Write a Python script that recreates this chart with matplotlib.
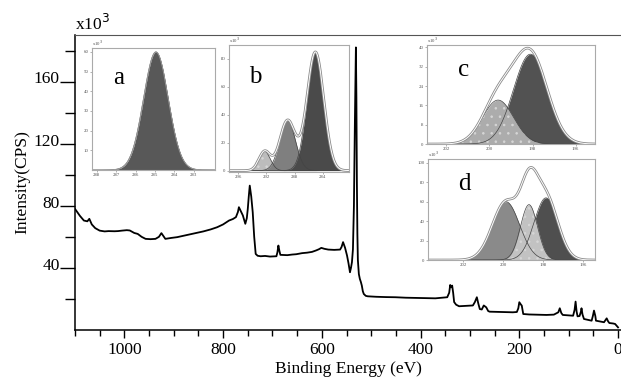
import numpy as np
import matplotlib
matplotlib.use("Agg")
import matplotlib.pyplot as plt
from matplotlib.transforms import ScaledTranslation

plt.rcParams['font.family'] = ['Liberation Serif', 'DejaVu Serif']
plt.rcParams['hatch.linewidth'] = 0.6

# survey spectrum, binding energy (eV) vs counts (x10^3)
be_survey = [1100, 1090, 1082, 1075, 1071, 1066, 1059, 1050, 1040, 1032, 1020, 1013,
             1005, 995, 989, 980, 973, 965, 957, 947, 937, 930, 925, 921, 917, 905,
             893, 880, 865, 853, 840, 825, 812, 800, 788, 780, 774, 770, 768, 764,
             760, 755, 752, 750, 748, 746, 743, 740, 737, 734, 730, 724, 715, 705,
             692, 690, 688, 686, 684, 670, 660, 652, 640, 630, 620, 612, 606, 601,
             595, 587, 575, 563, 560, 557, 553, 549, 546, 543, 541, 539, 537, 535,
             534, 533, 532, 531, 530, 529.5, 529, 528, 527, 525, 523, 521, 519, 517,
             515, 511, 507, 490, 470, 451, 430, 402, 385, 370, 355, 346, 342, 340,
             338, 336, 334, 332, 328, 322, 310, 294, 290, 286, 283, 280, 276, 272,
             270, 267, 263, 260, 240, 225, 213, 205, 202, 200, 197, 195, 192, 180,
             160, 145, 130, 121, 118, 115, 112, 100, 91, 88, 86, 84, 82, 78, 75, 74,
             72, 69, 60, 53.5, 51, 48.7, 46, 44.7, 35, 28.4, 25, 23, 20, 17.6, 10, 6,
             2, 0]
cps_survey = [78, 73.5, 70.5, 70, 71.6, 68, 65.6, 64, 63.5, 63.7, 63.6, 63.7,
              64, 64.3, 64.1, 62.5, 61.9, 60, 58.7, 58.5, 58.7, 60, 62.4, 60.5, 58.7, 59.3,
              59.8, 60.7, 61.8, 62.6, 63.5, 64.8, 66.2, 68, 70.5, 71.5, 72.7, 76, 79.1, 76.5,
              73.8, 68.4, 72, 78, 86, 93, 86, 75.9, 60, 49, 47.8, 47.5, 47.7, 47.3,
              47.5, 50, 54.4, 51, 48.4, 48.2, 48.6, 48.8, 49.5, 49.8, 50.3, 51.2, 52, 52.9,
              52.3, 51.8, 51.6, 51.8, 53.5, 56.6, 53, 48, 43, 37.2, 40, 43.7, 52, 80,
              110, 135, 160, 182, 150, 120, 95, 62, 45, 36, 32.9, 31, 28.6, 25,
              23.2, 22, 21.7, 21.4, 21.2, 21.1, 20.8, 20.6, 20.5, 20.4, 20.8, 21.1, 24, 29,
              27.5, 28.6, 24, 18, 16.3, 15.3, 15.5, 15.8, 18, 21.1, 17, 13.5, 13.2, 15.8,
              15.3, 14.6, 12.2, 11.8, 11.6, 11.5, 11.4, 11.6, 14, 17.9, 16.5, 15.7, 10.3, 10,
              9.8, 9.7, 9.9, 11.4, 14, 11, 9.7, 9.4, 9.2, 13, 18.3, 12, 8.8, 9, 12, 14,
              10, 7.1, 6.5, 6, 9, 12.5, 9, 6, 5.4, 5, 6.5, 7.5, 5.5, 4.5, 4.2, 3.9,
              2.5, 1.7]

# fitted components of the insets: centre (eV), fwhm (eV), height (x10^3)
a_center = [284.95]
a_fwhm = [1.5]
a_height = [60]

b_center = [292.25, 289.0, 285.06]
b_fwhm = [1.9, 2.6, 2.8]
b_height = [13.8, 36, 85]

c_center = [198.1, 199.6]
c_fwhm = [1.85, 1.7]
c_height = [37.2, 18.2]

d_center = [199.85, 197.85, 198.7]
d_fwhm = [1.6, 1.4, 1.0]
d_height = [60, 64, 57]

W, H = 621, 383
fig = plt.figure(figsize=(W / 100, H / 100), dpi=100)


def px_box(l, t, r, b):
    return [l / W, 1 - b / H, (r - l) / W, (b - t) / H]


ax = fig.add_axes(px_box(75, 35, 621, 330))
ax.plot(be_survey, cps_survey, color='black', lw=1.3)
ax.set_xlim(1100, -6)
ax.set_ylim(0, 190)
ax.set_xticks([1000, 800, 600, 400, 200, 0])
ax.set_xticks(np.arange(0, 1101, 50), minor=True)
ax.set_yticks([40, 80, 120, 160])
ax.set_yticks([20, 60, 100, 140, 180], minor=True)
ax.tick_params(axis='x', which='major', length=6, width=1, labelsize=12.5, pad=3)
ax.tick_params(axis='x', which='minor', length=4, width=1)
ax.tick_params(axis='y', which='major', length=11, width=1, labelsize=12.5, pad=0)
ax.tick_params(axis='y', which='minor', length=7, width=1)
for lab in ax.get_yticklabels():
    lab.set_transform(lab.get_transform() + ScaledTranslation(0, 3 / 72, fig.dpi_scale_trans))
for s in ['left', 'bottom']:
    ax.spines[s].set_linewidth(1.1)
ax.spines['top'].set_color('#555555')
ax.spines['right'].set_visible(False)
ax.set_xlabel('Binding Energy (eV)', fontsize=12.5, labelpad=2)
ax.set_ylabel('Intensity(CPS)', fontsize=12.5, labelpad=2)
fig.text(75 / W, 1 - 34 / H, r'x10$^3$', fontsize=12.5, ha='left', va='bottom')


def comp(x, c, f, h):
    return h * np.exp(-4 * np.log(2) * ((x - c) / f) ** 2)


def inset(box, xlim, ylim, xt, yt, centers, fwhms, heights, colors, dotted, order, letter):
    ia = fig.add_axes(px_box(*box))
    x = np.linspace(xlim[1], xlim[0], 400)
    parts = [comp(x, c, f, h) for c, f, h in zip(centers, fwhms, heights)]
    for i in order:
        ia.fill_between(x, 0, parts[i], color=colors[i], lw=0)
        if dotted[i]:
            ia.fill_between(x, 0, parts[i], facecolor='none', edgecolor='#d6d6d6',
                            hatch='..', lw=0)
    for p in parts:
        ia.plot(x, p, color='#444444', lw=0.5)
    env = np.sum(parts, axis=0)
    if len(parts) > 1:
        ia.plot(x, env, color='#8a8a8a', lw=1.9)
        ia.plot(x, env, color='white', lw=0.7)
    else:
        ia.plot(x, env, color='#999999', lw=0.7)
    ia.set_xlim(*xlim)
    ia.set_ylim(*ylim)
    ia.set_xticks(xt)
    ia.set_yticks(yt)
    ia.tick_params(labelsize=3.5, labelcolor='#555555', length=1.5, width=0.4,
                   color='#777777', pad=1)
    for s in ia.spines.values():
        s.set_color('#aaaaaa')
        s.set_linewidth(0.8)
    ia.text(0.0, 1.0, r'x10$^3$', transform=ia.transAxes, fontsize=3.5,
            color='#555555', ha='left', va='bottom')
    ia.text(0.22, 0.75, letter, transform=ia.transAxes, fontsize=18,
            ha='center', va='center')
    return ia


inset((92, 48, 215, 170), (288.25, 281.9), (0, 62), [288, 287, 286, 285, 284, 283],
      [10, 20, 30, 40, 50, 60], a_center, a_fwhm, a_height,
      ['#585858'], [False], [0], 'a')
inset((229, 45, 349, 172), (297.3, 280.3), (-1, 90), [296, 292, 288, 284],
      [0, 20, 40, 60, 80], b_center, b_fwhm, b_height,
      ['#bcbcbc', '#7f7f7f', '#4a4a4a'], [True, False, False], [0, 1, 2], 'b')
inset((427, 45, 595, 144), (202.9, 195.1), (0, 41), [202, 200, 198, 196],
      [0, 8, 16, 24, 32, 40], c_center, c_fwhm, c_height,
      ['#525252', '#acacac'], [False, True], [0, 1], 'c')
inset((428, 159, 595, 260), (203.75, 195.4), (0, 104), [202, 200, 198, 196],
      [0, 20, 40, 60, 80, 100], d_center, d_fwhm, d_height,
      ['#8a8a8a', '#4f4f4f', '#c2c2c2'], [False, False, True], [0, 1, 2], 'd')

fig.savefig('out.png', dpi=100)
